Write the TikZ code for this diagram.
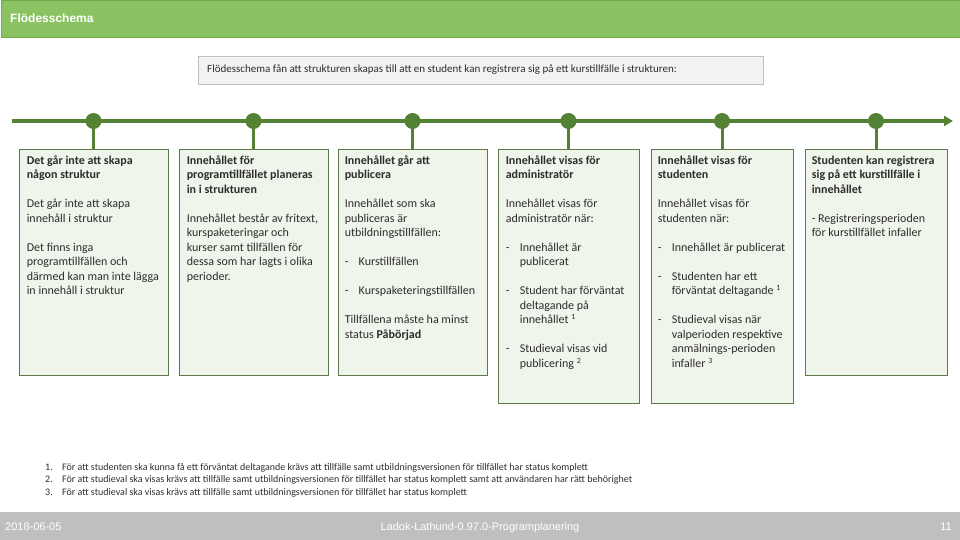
\documentclass[tikz,border=0pt]{standalone}
\usepackage{fontspec}
\setmainfont{Carlito}
\newfontfamily\arialf{Liberation Sans}
\usetikzlibrary{arrows.meta}
\definecolor{hdrfill}{RGB}{139,195,99}
\definecolor{hdrline}{RGB}{112,173,71}
\definecolor{tlgreen}{RGB}{84,130,53}
\definecolor{boxfill}{RGB}{240,245,235}
\definecolor{boxline}{RGB}{92,122,72}
\definecolor{capfill}{RGB}{242,242,242}
\definecolor{capline}{RGB}{191,191,191}
\definecolor{bodytext}{RGB}{45,45,45}
\definecolor{footfill}{RGB}{191,191,191}
\newcommand{\dsh}{\makebox[14pt][l]{-}}
\newcommand{\ind}{\hspace*{14pt}}
\tikzset{
  stagebox/.style={draw=boxline, fill=boxfill, line width=0.9pt, anchor=north, inner sep=0pt},
  txt/.style={anchor=north west, align=left, inner sep=0pt, text=bodytext, font=\fontsize{12}{14.5}\selectfont},
  tl/.style={draw=tlgreen, line width=4pt},
  stem/.style={draw=tlgreen, line width=3pt},
  dot/.style={circle, fill=tlgreen, minimum size=16pt, inner sep=0pt},
  fn/.style={anchor=base west, inner sep=0pt, text=bodytext, font=\fontsize{10}{12}\selectfont},
  foot/.style={inner sep=0pt, text=white, font=\arialf\fontsize{11}{13}\selectfont}
}
\begin{document}
\begin{tikzpicture}[x=1pt,y=-1pt]
\useasboundingbox (0,0) rectangle (960,540);
% header
\node[fill=hdrfill, draw=hdrline, line width=1pt, anchor=north west, minimum width=959pt, minimum height=37pt, inner sep=0pt] (header) at (0.5,0.5) {};
\node[anchor=west, inner sep=0pt, text=white, font=\arialf\bfseries\fontsize{12}{14}\selectfont] (title) at (10,18) {Flödesschema};
% caption
\node[fill=capfill, draw=capline, line width=0.8pt, anchor=north west, minimum width=565pt, minimum height=28pt, inner sep=0pt] (cap) at (198,56) {};
\node[anchor=west, inner sep=0pt, text=bodytext, font=\fontsize{11}{13}\selectfont] (captxt) at (207,70) {Flödesschema fån att strukturen skapas till att en student kan registrera sig på ett kurstillfälle i strukturen:};
% timeline
\coordinate (tstart) at (12,121);
\coordinate (tend) at (953,121);
\draw[tl, -{Triangle[length=9pt,width=10pt]}] (tstart) -- (tend);
% boxes
\node[stagebox, minimum width=149pt, minimum height=226pt] (b1) at (93.5,149) {};
\node[stagebox, minimum width=149pt, minimum height=226pt] (b2) at (253.5,149) {};
\node[stagebox, minimum width=149pt, minimum height=226pt] (b3) at (412.5,149) {};
\node[stagebox, minimum width=141pt, minimum height=254pt] (b4) at (568.5,149) {};
\node[stagebox, minimum width=142pt, minimum height=254pt] (b5) at (722,149) {};
\node[stagebox, minimum width=142pt, minimum height=226pt] (b6) at (876,149) {};
% dots
\node[dot] (c1) at (93.5,121) {};
\node[dot] (c2) at (253.5,121) {};
\node[dot] (c3) at (412.5,121) {};
\node[dot] (c4) at (568.5,121) {};
\node[dot] (c5) at (722,121) {};
\node[dot] (c6) at (876,121) {};
\foreach \i in {1,...,6} {\draw[stem] (c\i.center) -- (b\i.north);}
% texts
\node[txt] (t1) at ([shift={(8,6.5)}]b1.north west) {\textbf{Det går inte att skapa}\\ \textbf{någon struktur}\\[14.5pt] Det går inte att skapa\\ innehåll i struktur\\[14.5pt] Det finns inga\\ programtillfällen och\\ därmed kan man inte lägga\\ in innehåll i struktur};
\node[txt] (t2) at ([shift={(8,6.5)}]b2.north west) {\textbf{Innehållet för}\\ \textbf{programtillfället planeras}\\ \textbf{in i strukturen}\\[14.5pt] Innehållet består av fritext,\\ kurspaketeringar och\\ kurser samt tillfällen för\\ dessa som har lagts i olika\\ perioder.};
\node[txt] (t3) at ([shift={(7,6.5)}]b3.north west) {\textbf{Innehållet går att}\\ \textbf{publicera}\\[14.5pt] Innehållet som ska\\ publiceras är\\ utbildningstillfällen:\\[14.5pt] \dsh Kurstillfällen\\[14.5pt] \dsh Kurspaketeringstillfällen\\[14.5pt] Tillfällena måste ha minst\\ status \textbf{Påbörjad}};
\node[txt] (t4) at ([shift={(8,6.5)}]b4.north west) {\textbf{Innehållet visas för}\\ \textbf{administratör}\\[14.5pt] Innehållet visas för\\ administratör när:\\[14.5pt] \dsh Innehållet är\\ \ind publicerat\\[14.5pt] \dsh Student har förväntat\\ \ind deltagande på\\ \ind innehållet \textsuperscript{1}\\[14.5pt] \dsh Studieval visas vid\\ \ind publicering \textsuperscript{2}};
\node[txt] (t5) at ([shift={(7,6.5)}]b5.north west) {\textbf{Innehållet visas för}\\ \textbf{studenten}\\[14.5pt] Innehållet visas för\\ studenten när:\\[14.5pt] \dsh Innehållet är publicerat\\[14.5pt] \dsh Studenten har ett\\ \ind förväntat deltagande \textsuperscript{1}\\[14.5pt] \dsh Studieval visas när\\ \ind valperioden respektive\\ \ind anmälnings-perioden\\ \ind infaller \textsuperscript{3}};
\node[txt] (t6) at ([shift={(7,6.5)}]b6.north west) {\textbf{Studenten kan registrera}\\ \textbf{sig på ett kurstillfälle i}\\ \textbf{innehållet}\\[14.5pt] - Registreringsperioden\\ för kurstillfället infaller};
% footnotes
\node[fn] (n1) at (45,470) {1.};
\node[fn] (f1) at (62,470) {För att studenten ska kunna få ett förväntat deltagande krävs att tillfälle samt utbildningsversionen för tillfället har status komplett};
\node[fn] (n2) at (45,482.5) {2.};
\node[fn] (f2) at (62,482.5) {För att studieval ska visas krävs att tillfälle samt utbildningsversionen för tillfället har status komplett samt att användaren har rätt behörighet};
\node[fn] (n3) at (45,495) {3.};
\node[fn] (f3) at (62,495) {För att studieval ska visas krävs att tillfälle samt utbildningsversionen för tillfället har status komplett};
% footer
\node[fill=footfill, anchor=north west, minimum width=960pt, minimum height=28pt, inner sep=0pt] (footer) at (0,512) {};
\node[foot, anchor=base west] (date) at (5,530) {2018-06-05};
\node[foot, anchor=base] (doc) at (480,530) {Ladok-Lathund-0.97.0-Programplanering};
\node[foot, anchor=base east] (page) at (952,530) {11};
\end{tikzpicture}
\end{document}
